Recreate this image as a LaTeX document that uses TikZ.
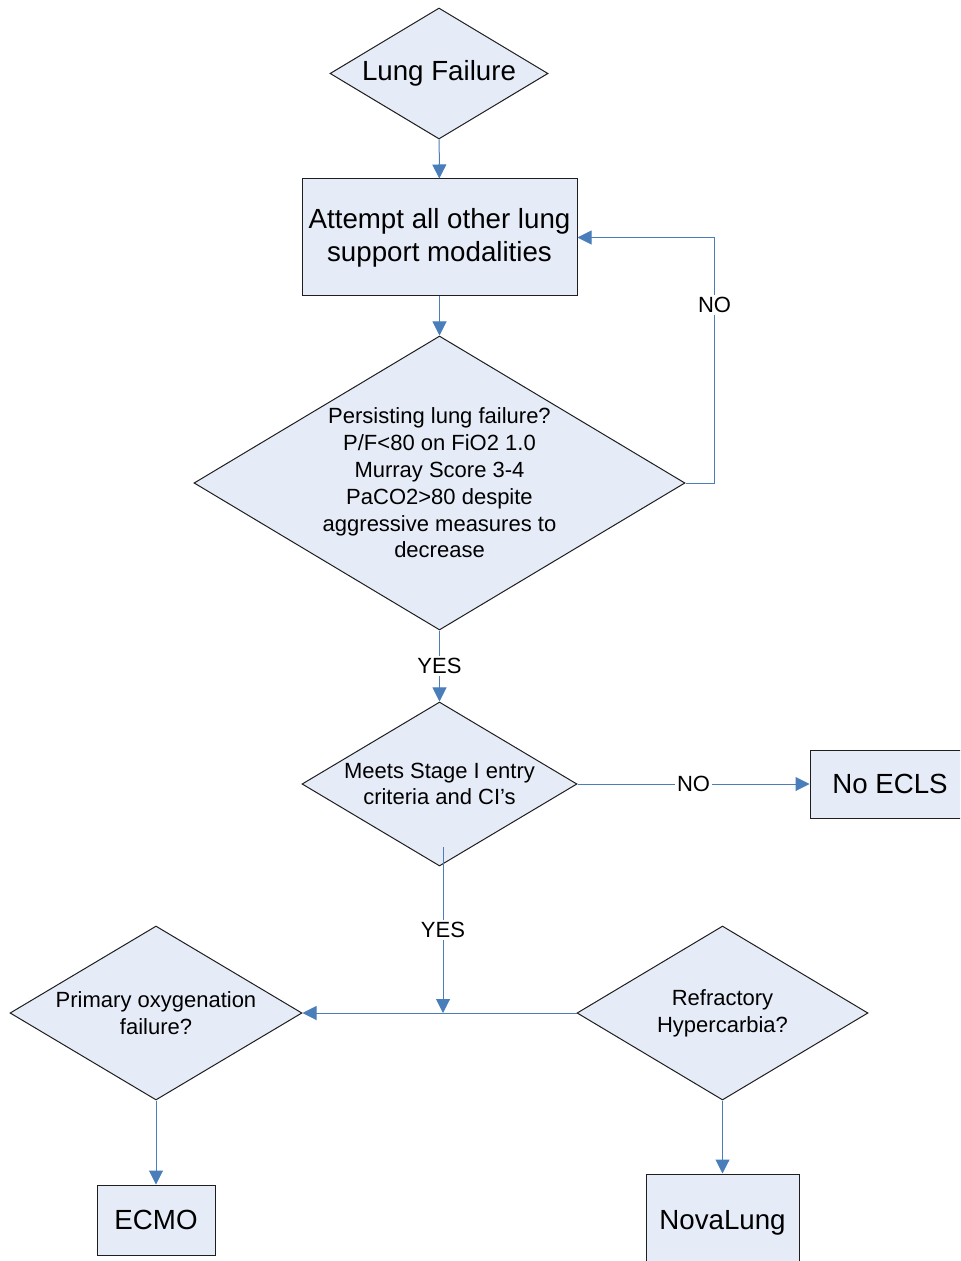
\documentclass[tikz,border=0pt]{standalone}
\usepackage{fontspec}
\setmainfont{Liberation Sans}
\usepackage{tikz}
\usetikzlibrary{arrows.meta,shapes.geometric}
\definecolor{flowFill}{RGB}{230,236,247}
\definecolor{flowLine}{RGB}{74,126,187}
\definecolor{flowEdge}{RGB}{30,30,30}
\newcommand{\bigtxt}{\fontsize{13.85}{16.5}\selectfont}
\newcommand{\smalltxt}{\fontsize{11}{13.4}\selectfont}

\begin{document}
\begin{tikzpicture}[x=0.5pt,y=-0.5pt,
  decision/.style={diamond,draw=flowEdge,fill=flowFill,line width=0.5pt,aspect=1.67,inner sep=-8pt,align=center},
  stepbox/.style={rectangle,draw=flowEdge,fill=flowFill,line width=0.5pt,align=center,inner sep=2pt,font=\bigtxt},
  conn/.style={draw=flowLine,line width=0.5pt,-{Triangle[length=7pt,width=7pt]}},
  answer/.style={fill=white,inner sep=1pt,text=black,font=\smalltxt}]
\clip (0,0) rectangle (960,1261);
% top part
\node[decision,font=\bigtxt,minimum width=109pt,minimum height=65.5pt] (lung) at (439,73.5) {Lung Failure};
\node[stepbox,minimum width=137.5pt,minimum height=58.5pt] (attempt) at (439.5,237.5) {Attempt all other lung\\support modalities};
\node[decision,font=\smalltxt,minimum width=245.5pt,minimum height=147pt] (persist) at (439.5,483)
  {Persisting lung failure?\\P/F<80 on FiO2 1.0\\Murray Score 3-4\\PaCO2>80 despite\\aggressive measures to\\decrease};
\node[decision,font=\smalltxt,minimum width=137.5pt,minimum height=82pt] (stage) at (439.5,784) {Meets Stage I entry\\criteria and CI’s};
\node[stepbox,minimum width=80pt,minimum height=34pt] (noecls) at (890,784) {No ECLS};
% bottom part
\node[decision,font=\smalltxt,minimum width=146pt,minimum height=87pt] (oxy) at (156,1013) {Primary oxygenation\\failure?};
\node[decision,font=\smalltxt,minimum width=145.5pt,minimum height=87pt] (hyper) at (722.5,1013) {Refractory\\Hypercarbia?};
\node[stepbox,minimum width=59pt,minimum height=35pt] (ecmo) at (156,1220) {ECMO};
\node[stepbox,minimum width=76.5pt,minimum height=49pt] (nova) at (722.5,1223) {NovaLung};
\coordinate (yesstart) at (443,847);
\coordinate (yesend) at (443,1013);

\draw[conn] (lung) -- (attempt);
\draw[conn] (attempt) -- (persist);
\draw[conn] (persist.east) -- ++(14.5pt,0) |- node[answer,pos=0.363] {NO} (attempt.east);
\draw[conn] (persist) -- node[answer] {YES} (stage);
\draw[conn] (stage.east) -- node[answer] {NO} (noecls.west);
\draw[conn] (yesstart) -- node[answer] {YES} (yesend);
\draw[conn] (hyper.west) -- (oxy.east);
\draw[conn] (oxy) -- (ecmo);
\draw[conn] (hyper) -- (nova);
\end{tikzpicture}
\end{document}
